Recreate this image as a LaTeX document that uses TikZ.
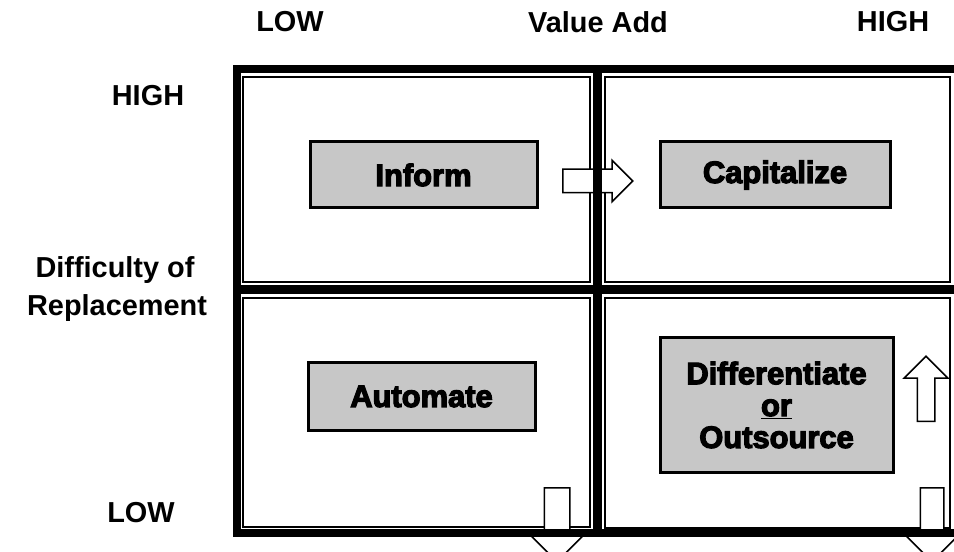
\documentclass[tikz,border=0pt]{standalone}
\usepackage{fontspec}
\setmainfont{Liberation Sans}
\newfontfamily\heavyfont[BoldFeatures={FakeBold=4}]{Liberation Sans}
\usetikzlibrary{shapes.arrows}

\begin{document}
\begin{tikzpicture}[x=1bp, y=-1bp,
  lbl/.style={font=\fontsize{29}{29}\selectfont\bfseries},
  quad/.style={draw, line width=3bp, fill=black!22, inner sep=0pt,
    font=\fontsize{31}{32}\selectfont\heavyfont\bfseries, align=center},
  cell/.style={draw, line width=1.5bp},
  blk/.style={single arrow, draw, line width=1.5bp, fill=white,
    anchor=tail, single arrow tip angle=90}]
\useasboundingbox (0,0) rectangle (954,552);
\draw[cell] (243,77) rectangle (590,282);
\draw[cell] (605,77) rectangle (950,282);
\draw[cell] (243,298) rectangle (590,527);
\draw[cell] (605,298) rectangle (950,528);
\node[blk, minimum height=70bp, inner sep=11bp, single arrow head extend=9bp] (toright) at (562,181) {};
\node[blk, minimum height=74bp, inner sep=12bp, single arrow head extend=14bp, shape border rotate=270] (downlow) at (557,487) {};
\node[blk, minimum height=74bp, inner sep=11bp, single arrow head extend=14bp, shape border rotate=270] (downhigh) at (932,487) {};
\node[blk, minimum height=65bp, inner sep=8bp, single arrow head extend=13bp, shape border rotate=90] (uphigh) at (926,422) {};
\draw[line width=8bp] (237,69) rectangle (958,533);
\draw[line width=9bp] (597.5,69) -- (597.5,533);
\draw[line width=9bp] (237,290) -- (958,290);
\node[quad, minimum width=227bp, minimum height=66bp] (inform) at (423.5,175) {Inform};
\node[quad, minimum width=230bp, minimum height=66bp] (capitalize) at (775,175) {Capitalize};
\node[quad, minimum width=227bp, minimum height=67bp] (automate) at (421.5,396.5) {Automate};
\node[quad, minimum width=233bp, minimum height=134bp] (differ) at (776.5,405) {Differentiate\\\underline{or}\\Outsource};
\node[lbl] (xlow) at (290,22) {LOW};
\node[lbl] (xmid) at (598,22) {Value Add};
\node[lbl] (xhigh) at (893,22) {HIGH};
\node[lbl] (yhigh) at (148,96) {HIGH};
\node[lbl] (ymid1) at (115,270) {Difficulty of};
\node[lbl] (ymid2) at (117,308) {Replacement};
\node[lbl] (ylow) at (141,513) {LOW};
\end{tikzpicture}
\end{document}
